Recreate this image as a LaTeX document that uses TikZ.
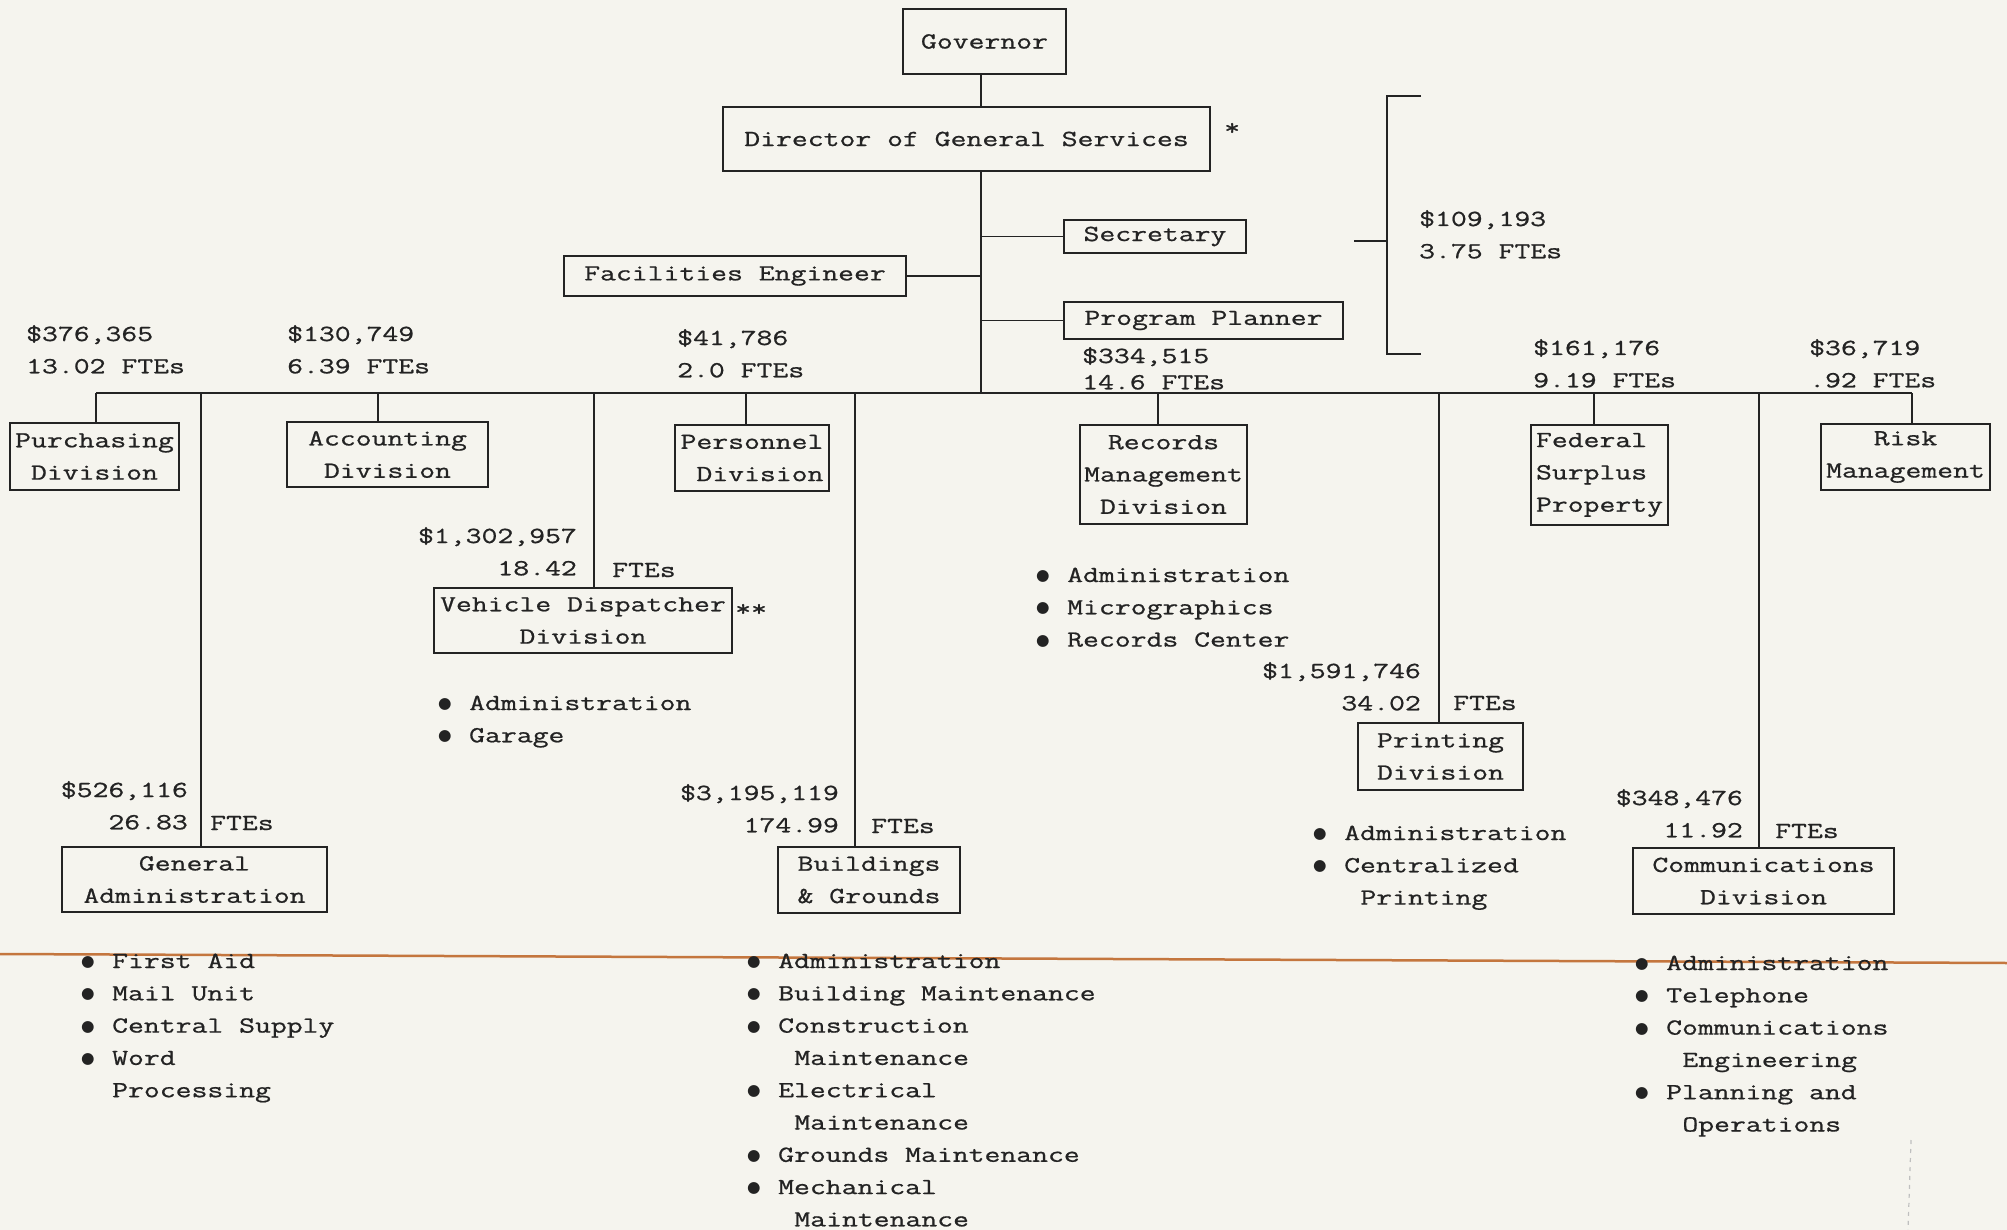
\documentclass[tikz,border=0pt]{standalone}
\usepackage{fontspec}
\setmonofont{Latin Modern Mono}[FakeStretch=1.34,FakeBold=0.8]
\newfontfamily\symf{DejaVu Sans}
\definecolor{paper}{RGB}{245,244,238}
\definecolor{ink}{RGB}{35,35,35}
\definecolor{scanline}{RGB}{196,118,62}
\newcommand\typefont{\ttfamily\fontsize{23}{32.3}\selectfont}
% bullet and continuation indents for the lists of units
\newcommand\bul{\makebox[31pt][l]{\raisebox{1.5pt}{\symf\fontsize{15.5}{15.5}\selectfont ●}}}
\newcommand\ind{\hspace*{47.2pt}}
\newcommand\inda{\hspace*{31pt}}
\newcommand\rows[1]{\begin{tabular}[t]{@{}l@{}}#1\end{tabular}}
\newcommand\rrows[1]{\begin{tabular}[t]{@{}r@{}}#1\end{tabular}}
\begin{document}
\begin{tikzpicture}[x=1pt,y=-1pt,
  every node/.style={font=\typefont, text=ink},
  box/.style={draw=ink, line width=1.8pt, inner sep=0pt, align=center},
  lbl/.style={inner sep=0pt, anchor=base west},
  rlbl/.style={inner sep=0pt, anchor=base east},
  link/.style={draw=ink, line width=1.8pt}]
\useasboundingbox (0,0) rectangle (2007,1230);
\fill[paper] (0,0) rectangle (2007,1230);

% stray marks on the sheet
\draw[scanline, line width=2.5pt] (0,954) -- (2007,963);
\draw[gray!50, line width=1.2pt, dash pattern=on 4pt off 5pt] (1911,1140) -- (1908,1230);

% top of the chart
\node[box, minimum width=163pt, minimum height=65pt] (gov) at (984.5,41.5) {Governor};
\node[box, minimum width=487pt, minimum height=64pt] (dir) at (966.5,139) {Director of General Services};
\node[lbl] (dirnote) at (1224,135) {*};
\node[box, minimum width=182pt, minimum height=33pt] (sec) at (1155,236.5) {Secretary};
\node[box, minimum width=279pt, minimum height=37pt] (plan) at (1203.5,320.5) {Program Planner};
\node[box, minimum width=342pt, minimum height=40pt] (fac) at (735,276) {Facilities Engineer};

% divisions on the first row
\node[box, minimum width=169pt, minimum height=67pt] (pur) at (94.5,456.5) {Purchasing\\Division};
\node[box, minimum width=201pt, minimum height=65pt] (acc) at (387.5,454.5) {Accounting\\Division};
\node[box, align=right, minimum width=154pt, minimum height=66pt] (per) at (752,458) {Personnel\\Division};
\node[box, minimum width=167pt, minimum height=99pt] (rec) at (1163.5,474.5) {Records\\Management\\Division};
\node[box, align=left, minimum width=137pt, minimum height=100pt] (fed) at (1599.5,475) {Federal\\Surplus\\Property};
\node[box, minimum width=169pt, minimum height=66pt] (risk) at (1905.5,457) {Risk\\Management};

% divisions hanging lower
\node[box, minimum width=298pt, minimum height=65pt] (veh) at (583,620.5) {Vehicle Dispatcher\\Division};
\node[lbl] (vehnote) at (735,616) {**};
\node[box, minimum width=165pt, minimum height=67pt] (prt) at (1440.5,756.5) {Printing\\Division};
\node[box, minimum width=265pt, minimum height=65pt] (ga) at (194.5,879.5) {General\\Administration};
\node[box, minimum width=182pt, minimum height=66pt] (bg) at (869,880) {Buildings\\\& Grounds};
\node[box, minimum width=261pt, minimum height=66pt] (com) at (1763.5,881) {Communications\\Division};

% trunk, staff lines and the distribution bus
\coordinate (trk) at (981,393);
\coordinate (busL) at (96,393);
\coordinate (busR) at (1912,393);
\draw[link] (gov.south -| trk) -- (dir.north -| trk);
\draw[link] (dir.south -| trk) -- (trk);
\draw[link] (fac.east) -- (fac.east -| trk);
\draw[link] (sec.west) -- (sec.west -| trk);
\draw[link] (plan.west) -- (plan.west -| trk);
\draw[link] (busL) -- (busR);

% drops from the bus
\coordinate (dGA) at (201,393);
\coordinate (dAcc) at (378,393);
\coordinate (dVeh) at (594,393);
\coordinate (dPer) at (746,393);
\coordinate (dBG) at (855,393);
\coordinate (dRec) at (1158,393);
\coordinate (dPrt) at (1439,393);
\coordinate (dFed) at (1594,393);
\coordinate (dCom) at (1759,393);
\draw[link] (busL) -- (busL |- pur.north);
\draw[link] (dGA) -- (dGA |- ga.north);
\draw[link] (dAcc) -- (dAcc |- acc.north);
\draw[link] (dVeh) -- (dVeh |- veh.north);
\draw[link] (dPer) -- (dPer |- per.north);
\draw[link] (dBG) -- (dBG |- bg.north);
\draw[link] (dRec) -- (dRec |- rec.north);
\draw[link] (dPrt) -- (dPrt |- prt.north);
\draw[link] (dFed) -- (dFed |- fed.north);
\draw[link] (dCom) -- (dCom |- com.north);
\draw[link] (busR) -- (busR |- risk.north);

% bracket grouping the staff positions
\coordinate (brTop) at (1421,96);
\coordinate (brBot) at (1421,354);
\coordinate (brMid) at (1387,241);
\coordinate (brTick) at (1354,241);
\draw[link] (brTop) -- (brTop -| brMid) -- (brBot -| brMid) -- (brBot);
\draw[link] (brTick) -- (brMid);
\node[lbl] (brk) at (1419,226) {\rows{\$109,193\\3.75 FTEs}};

% budgets and staffing
\node[lbl] (purB) at (26,341) {\rows{\$376,365\\13.02 FTEs}};
\node[lbl] (accB) at (287,341) {\rows{\$130,749\\6.39 FTEs}};
\node[lbl] (perB) at (677,345) {\rows{\$41,786\\2.0 FTEs}};
\node[lbl] (recB) at (1082,363) {\rows{\$334,515\\[-6pt]14.6 FTEs}};
\node[lbl] (fedB) at (1533,355) {\rows{\$161,176\\9.19 FTEs}};
\node[lbl] (riskB) at (1809,355) {\rows{\$36,719\\.92 FTEs}};
\node[rlbl] (vehB) at (577,543) {\rrows{\$1,302,957\\18.42}};
\node[lbl] (vehF) at (612,577) {FTEs};
\node[rlbl] (gaB) at (188,797) {\rrows{\$526,116\\26.83}};
\node[lbl] (gaF) at (210,830) {FTEs};
\node[rlbl] (bgB) at (839,800) {\rrows{\$3,195,119\\174.99}};
\node[lbl] (bgF) at (871,833) {FTEs};
\node[rlbl] (prtB) at (1421,678) {\rrows{\$1,591,746\\34.02}};
\node[lbl] (prtF) at (1453,710) {FTEs};
\node[rlbl] (comB) at (1743,805) {\rrows{\$348,476\\11.92}};
\node[lbl] (comF) at (1775,838) {FTEs};

% units within the divisions
\node[lbl] (vehL) at (438,710) {\rows{\bul Administration\\\bul Garage}};
\node[lbl] (recL) at (1036,582) {\rows{\bul Administration\\\bul Micrographics\\\bul Records Center}};
\node[lbl] (prtL) at (1313,840) {\rows{\bul Administration\\\bul Centralized\\\ind Printing}};
\node[lbl] (gaL) at (81,968) {\rows{\bul First Aid\\\bul Mail Unit\\\bul Central Supply\\\bul Word\\\inda Processing}};
\node[lbl] (bgL) at (747,968) {\rows{\bul Administration\\\bul Building Maintenance\\\bul Construction\\\ind Maintenance\\\bul Electrical\\\ind Maintenance\\\bul Grounds Maintenance\\\bul Mechanical\\\ind Maintenance}};
\node[lbl] (comL) at (1635,970) {\rows{\bul Administration\\\bul Telephone\\\bul Communications\\\ind Engineering\\\bul Planning and\\\ind Operations}};
\end{tikzpicture}
\end{document}
